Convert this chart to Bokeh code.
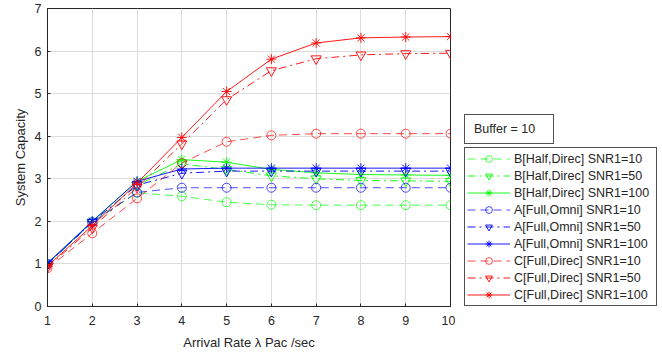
from bokeh.plotting import figure
from bokeh.models import FixedTicker, Legend, LegendItem
from bokeh.layouts import row
from bokeh.embed import file_html
from bokeh.resources import INLINE

x = [1, 2, 3, 4, 5, 6, 7, 8, 9, 10]
B10 = [1.00, 1.98, 2.67, 2.59, 2.45, 2.39, 2.38, 2.38, 2.38, 2.38]
B50 = [1.00, 1.98, 2.85, 3.35, 3.22, 3.07, 3.00, 2.96, 2.95, 2.94]
B100 = [1.00, 2.00, 2.94, 3.45, 3.39, 3.22, 3.14, 3.10, 3.09, 3.08]
A10 = [1.00, 1.98, 2.68, 2.79, 2.79, 2.79, 2.79, 2.79, 2.79, 2.79]
A50 = [1.00, 1.98, 2.85, 3.13, 3.18, 3.18, 3.18, 3.18, 3.18, 3.18]
A100 = [1.02, 2.00, 2.94, 3.23, 3.25, 3.25, 3.25, 3.25, 3.25, 3.25]
C10 = [0.90, 1.72, 2.54, 3.37, 3.87, 4.02, 4.06, 4.06, 4.06, 4.06]
C50 = [0.93, 1.85, 2.80, 3.82, 4.86, 5.54, 5.82, 5.91, 5.94, 5.95]
C100 = [0.95, 1.90, 2.90, 3.97, 5.05, 5.81, 6.19, 6.31, 6.33, 6.34]
buffer_text = "Buffer = 10"

series = [
    ("B[Half,Direc] SNR1=10", B10, "#00ff00", "dashed", "circle"),
    ("B[Half,Direc] SNR1=50", B50, "#00ff00", "dashdot", "inverted_triangle"),
    ("B[Half,Direc] SNR1=100", B100, "#00ff00", "solid", "asterisk"),
    ("A[Full,Omni] SNR1=10", A10, "#0000ff", "dashed", "circle"),
    ("A[Full,Omni] SNR1=50", A50, "#0000ff", "dashdot", "inverted_triangle"),
    ("A[Full,Omni] SNR1=100", A100, "#0000ff", "solid", "asterisk"),
    ("C[Full,Direc] SNR1=10", C10, "#ff0000", "dashed", "circle"),
    ("C[Full,Direc] SNR1=50", C50, "#ff0000", "dashdot", "inverted_triangle"),
    ("C[Full,Direc] SNR1=100", C100, "#ff0000", "solid", "asterisk"),
]
dashes = {"dashed": "8 5", "dashdot": "8 4 2 4", "solid": "solid"}
msize = {"circle": 9, "inverted_triangle": 10, "asterisk": 10}
NAN = float("nan")

FONT = "Liberation Sans"
AX = "#262626"

# main plot
p = figure(width=455, height=358, output_backend="svg", toolbar_location=None,
           x_range=(1, 10), y_range=(0, 7),
           min_border_left=47, min_border_right=5, min_border_top=8, min_border_bottom=52)

# side panel hosting the legend and the buffer box
q = figure(width=207, height=358, output_backend="svg", toolbar_location=None,
           x_range=(0, 1), y_range=(0, 1), x_axis_type=None, y_axis_type=None,
           min_border_left=0, min_border_right=0, min_border_top=8, min_border_bottom=52)
q.xgrid.visible = False
q.ygrid.visible = False
q.outline_line_color = None

items = []
for name, ys, col, dash, mk in series:
    alpha = 0.7 if dash == "dashed" else 0.9
    p.line(x, ys, line_color=col, line_dash=dashes[dash], line_width=1, line_alpha=alpha)
    p.scatter(x, ys, marker=mk, size=msize[mk], line_color=col, fill_color=None,
              line_width=1, line_alpha=alpha)
    # legend swatches: styled like the series, no visible data
    l2 = q.line([NAN], [NAN], line_color=col, line_dash=dashes[dash], line_width=1, line_alpha=alpha)
    s2 = q.scatter([NAN], [NAN], marker=mk, size=msize[mk], line_color=col, fill_color=None,
                   line_width=1, line_alpha=alpha)
    items.append(LegendItem(label=name, renderers=[l2, s2]))

p.xaxis.ticker = FixedTicker(ticks=list(range(1, 11)))
p.yaxis.ticker = FixedTicker(ticks=list(range(0, 8)))
p.xaxis.axis_label = "Arrival Rate λ Pac /sec"
p.yaxis.axis_label = "System Capacity"
for ax in (p.xaxis, p.yaxis):
    ax.axis_label_text_font = FONT
    ax.axis_label_text_font_style = "normal"
    ax.axis_label_text_font_size = "13px"
    ax.axis_label_text_color = AX
    ax.major_label_text_font = FONT
    ax.major_label_text_font_size = "12.5px"
    ax.major_label_text_color = AX
    ax.axis_line_color = AX
    ax.major_tick_line_color = AX
    ax.major_tick_in = 3
    ax.major_tick_out = 0
    ax.minor_tick_line_color = None
p.xaxis.major_label_standoff = 9
p.xaxis.axis_label_standoff = 7
p.yaxis.major_label_standoff = 6
p.yaxis.axis_label_standoff = 4

p.xgrid.grid_line_color = "#dcdcdc"
p.ygrid.grid_line_color = "#dcdcdc"
p.outline_line_color = AX
p.outline_line_alpha = 1.0

def style_legend(lg):
    lg.label_text_font = FONT
    lg.label_text_font_size = "12.5px"
    lg.label_text_color = AX
    lg.margin = 0
    lg.border_line_color = AX
    lg.border_line_alpha = 0.8
    lg.background_fill_alpha = 1.0

lg = Legend(items=items, location=(9, 0))
style_legend(lg)
lg.glyph_width = 43
lg.glyph_height = 17
lg.label_height = 17
lg.label_width = 140
lg.spacing = 0
lg.padding = 2
lg.label_standoff = 4
q.add_layout(lg, "center")

# buffer box: a one-entry legend with an invisible swatch
blank = q.line([NAN], [NAN], line_alpha=0)
bl = Legend(items=[LegendItem(label=buffer_text, renderers=[blank])], location=(9, 162))
style_legend(bl)
bl.glyph_width = 7
bl.glyph_height = 24
bl.label_height = 24
bl.label_width = 77
bl.spacing = 0
bl.padding = 2
bl.label_standoff = 0
q.add_layout(bl, "center")

layout = row(p, q, spacing=0)
open("out.html", "w").write(file_html(layout, INLINE))
